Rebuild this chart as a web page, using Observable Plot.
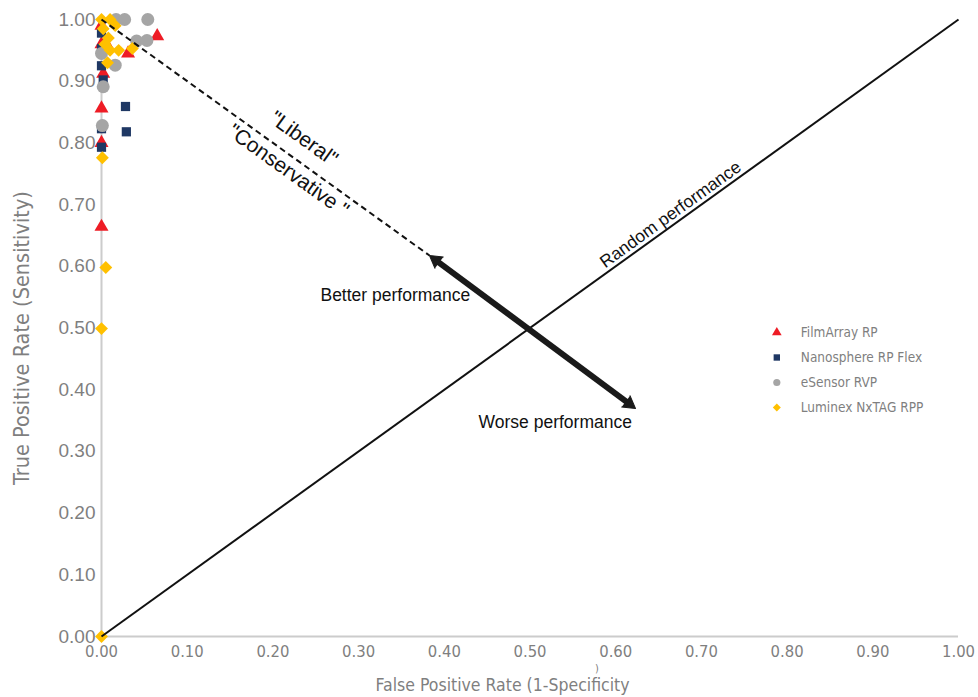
<!DOCTYPE html>
<html>
<head>
<meta charset="utf-8">
<script src="https://cdn.jsdelivr.net/npm/d3@7"></script>
<script src="https://cdn.jsdelivr.net/npm/@observablehq/plot@0.6"></script>
<style>
  html, body { margin: 0; padding: 0; background: #fff; }
  #chart svg { display: block; }
</style>
</head>
<body>
<div id="chart"></div>
<script>
// ---- Data ----
const seriesNames = ["FilmArray RP", "Nanosphere RP Flex", "eSensor RVP", "Luminex NxTAG RPP"];
const seriesColors = ["#ee1c25", "#1f3864", "#a5a5a5", "#ffc000"];
const seriesSymbols = ["triangle", "square", "circle", "diamond2"];

const filmX = [0, 0, 0.005, 0.002, 0, 0, 0, 0.031, 0.065];
const filmY = [0.99, 0.96, 0.962, 0.912, 0.856, 0.80, 0.664, 0.945, 0.973];

const nanoX = [0, 0, 0, 0.002, 0, 0, 0.028, 0.029];
const nanoY = [0.978, 0.953, 0.925, 0.902, 0.823, 0.793, 0.859, 0.818];

const esensX = [0.017, 0.027, 0.054, 0.041, 0.053, 0.016, 0, 0.002, 0.001];
const esensY = [1.0, 1.0, 1.0, 0.965, 0.966, 0.926, 0.945, 0.891, 0.828];

const luminX = [0, 0.01, 0.016, 0.008, 0.01, 0.02, 0.036, 0.007, 0.002, 0.004, 0.001, 0.005, 0, 0];
const luminY = [1.0, 1.0, 0.99, 0.97, 0.95, 0.95, 0.953, 0.93, 0.985, 0.96, 0.776, 0.598, 0.499, 0];

const xTicks = [0, 0.1, 0.2, 0.3, 0.4, 0.5, 0.6, 0.7, 0.8, 0.9, 1.0];
const yTicks = [0, 0.1, 0.2, 0.3, 0.4, 0.5, 0.6, 0.7, 0.8, 0.9, 1.0];

const xTitle = "False Positive Rate (1-Specificity";
const yTitle = "True Positive Rate (Sensitivity)";

// Annotation geometry (data coordinates)
const arrowTipA = [0.3827, 0.6175];   // "better" end
const arrowTipB = [0.6231, 0.3695];   // "worse" end
const shaftA = [0.3883, 0.6117];
const shaftB = [0.6175, 0.3753];

const seriesX = [filmX, nanoX, esensX, luminX];
const seriesY = [filmY, nanoY, esensY, luminY];

const points = [];
seriesNames.forEach((name, s) => {
  seriesX[s].forEach((xv, i) => points.push({series: s, x: xv, y: seriesY[s][i]}));
});

const narrow = "Liberation Sans Narrow, DejaVu Sans Condensed, Arial Narrow, sans-serif";
const sans = "Liberation Sans, Arial, sans-serif";

const dotMarks = seriesNames.map((name, s) =>
  Plot.dot(points.filter(p => p.series === s), {
    x: "x", y: "y",
    symbol: () => seriesSymbols[s],
    fill: seriesColors[s],
    r: s === 2 ? 6.5 : (s === 3 ? 5.8 : 5.2),
    stroke: "none"
  })
);

const legendRows = seriesNames.map((name, s) => ({s, name}));
const legendY = s => 0.4927 - s * 0.0405;

const chart = Plot.plot({
  width: 978,
  height: 697,
  marginLeft: 101,
  marginRight: 20,
  marginTop: 19,
  marginBottom: 61,
  x: {domain: [0, 1]},
  y: {domain: [0, 1]},
  style: {background: "white", fontFamily: sans},
  marks: [
    Plot.ruleX([0], {stroke: "#cccccc", strokeWidth: 2}),
    Plot.ruleY([0], {stroke: "#cccccc", strokeWidth: 2}),
    Plot.axisY({ticks: yTicks, tickFormat: d3.format(".2f"), tickSize: 0, tickPadding: 6,
      fontSize: 19, fill: "#7f7f7f", label: null}),
    Plot.axisX({ticks: xTicks, tickFormat: d3.format(".2f"), tickSize: 0, tickPadding: 9,
      fontSize: 16.5, fill: "#7f7f7f", label: null, fontFamily: narrow}),
    Plot.text([xTitle], {frameAnchor: "bottom", x: () => 0.468, dy: 54, fontSize: 17.5,
      fill: "#7f7f7f", fontFamily: narrow}),
    Plot.text([")"], {frameAnchor: "bottom", x: () => 0.578, dy: 32, lineAnchor: "middle", fontSize: 11,
      fill: "#7f7f7f", fontFamily: narrow}),
    Plot.text([yTitle], {frameAnchor: "left", textAnchor: "middle", rotate: -90, dx: -79, dy: 10,
      fontSize: 21.5, fill: "#7f7f7f", fontFamily: narrow}),
    ...dotMarks,
    // Random performance diagonal
    Plot.link([0], {x1: () => 0, y1: () => 0, x2: () => 1, y2: () => 1, stroke: "#111", strokeWidth: 2}),
    // Dashed liberal/conservative line
    Plot.link([0], {x1: () => 0, y1: () => 1, x2: () => arrowTipA[0], y2: () => arrowTipA[1],
      stroke: "#111", strokeWidth: 2, strokeDasharray: "6,4"}),
    // Double-headed performance arrow: shaft + filled heads
    Plot.link([0], {x1: () => shaftA[0], y1: () => shaftA[1], x2: () => shaftB[0], y2: () => shaftB[1],
      stroke: "#1a1a1a", strokeWidth: 6}),
    Plot.vector([0], {x: () => arrowTipA[0], y: () => arrowTipA[1], length: 12, rotate: -53.4,
      shape: "spike", r: 7, anchor: "end", fill: "#1a1a1a", stroke: "#1a1a1a", strokeWidth: 1}),
    Plot.vector([0], {x: () => arrowTipB[0], y: () => arrowTipB[1], length: 12, rotate: 126.6,
      shape: "spike", r: 7, anchor: "end", fill: "#1a1a1a", stroke: "#1a1a1a", strokeWidth: 1}),
    // Annotations
    Plot.text(["Better performance"], {x: () => 0.2555, y: () => 0.553, textAnchor: "start",
      fontSize: 17.5, fill: "#111"}),
    Plot.text(["Worse performance"], {x: () => 0.44, y: () => 0.347, textAnchor: "start",
      fontSize: 17.5, fill: "#111"}),
    Plot.text(["Random performance"], {x: () => 0.664, y: () => 0.684, rotate: -35.75,
      fontSize: 17.5, fill: "#111"}),
    Plot.text(["\"Liberal\""], {x: () => 0.236, y: () => 0.807, rotate: 35.65,
      fontSize: 21, fill: "#111"}),
    Plot.text(["\"Conservative \""], {x: () => 0.218, y: () => 0.755, rotate: 35.65,
      fontSize: 21, fill: "#111"}),
    // Legend
    Plot.dot(legendRows, {x: () => 0.788, y: d => legendY(d.s), symbol: d => seriesSymbols[d.s],
      fill: d => seriesColors[d.s], r: 3.6, stroke: "none"}),
    Plot.text(legendRows, {x: () => 0.816, y: d => legendY(d.s), text: "name", textAnchor: "start",
      fontSize: 13.5, fill: "#7f7f7f", fontFamily: narrow})
  ]
});
document.getElementById("chart").appendChild(chart);
</script>
</body>
</html>
